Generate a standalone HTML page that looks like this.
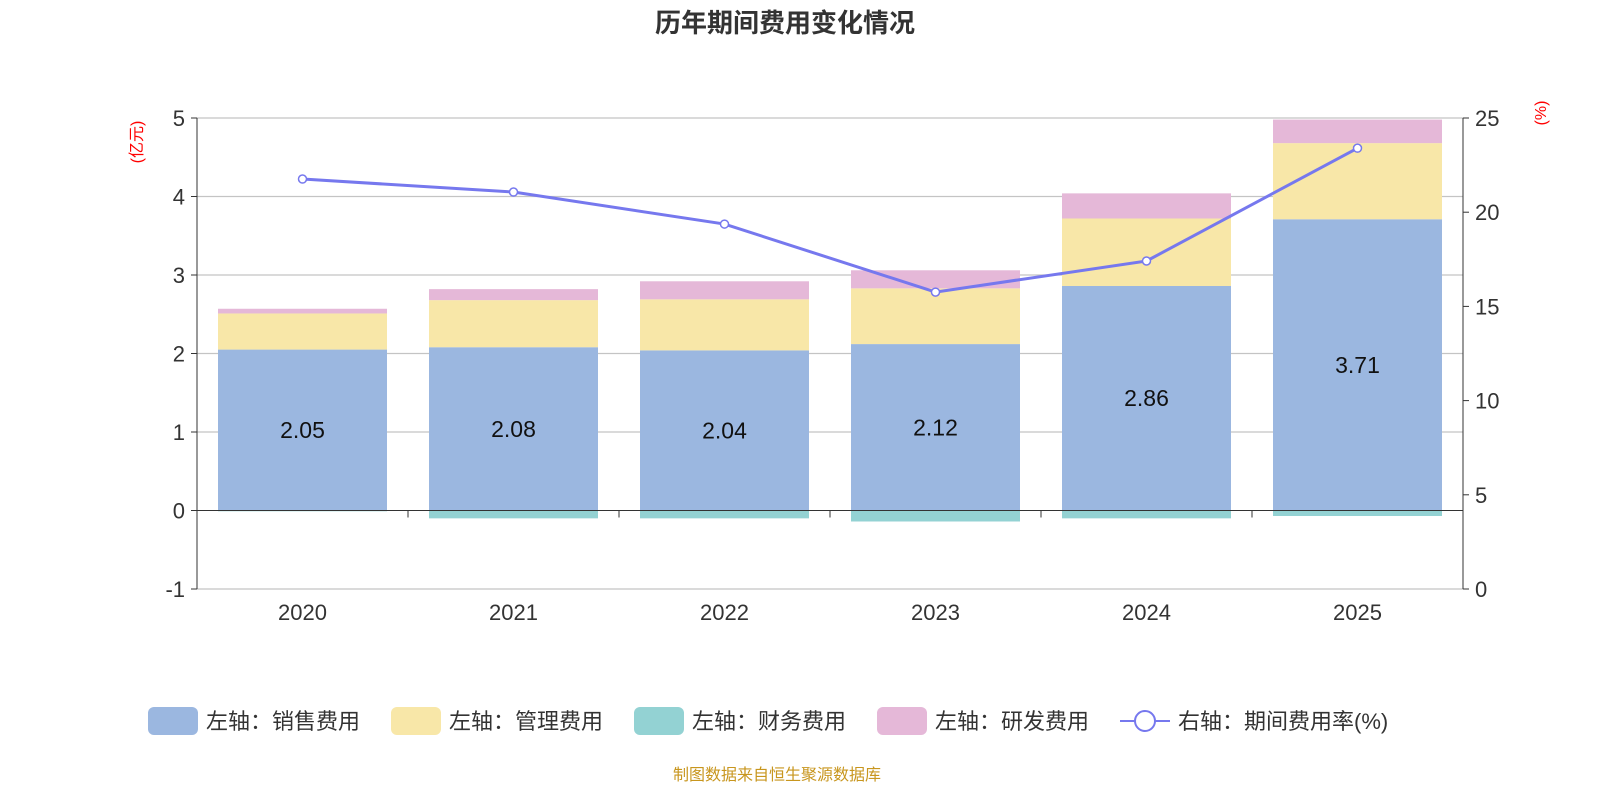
<!DOCTYPE html>
<html><head><meta charset="utf-8"><style>
body{margin:0;background:#fff;font-family:"Liberation Sans","Noto Sans CJK SC",sans-serif}
</style></head><body>
<svg id="c" width="1600" height="800" xmlns="http://www.w3.org/2000/svg"></svg>
<script>
const categories=["2020","2021","2022","2023","2024","2025"];
const sales=[2.05,2.08,2.04,2.12,2.86,3.71];
const mgmt=[0.46,0.60,0.65,0.71,0.86,0.97];
const finance=[-0.01,-0.10,-0.10,-0.14,-0.10,-0.07];
const rnd=[0.06,0.14,0.23,0.23,0.32,0.30];
const rate=[21.76,21.07,19.37,15.76,17.41,23.40];
const leftTicks=[-1,0,1,2,3,4,5];
const rightTicks=[0,5,10,15,20,25];

const NS="http://www.w3.org/2000/svg";
const svg=document.getElementById('c');
const X0=197,X1=1463,YT=118,YB=589;
const yL=v=>YB-(v+1)/6*(YB-YT);
const yR=v=>YB-v/25*(YB-YT);
const bw=(X1-X0)/categories.length;
const xc=i=>X0+bw*(i+0.5);
function el(t,a,txt){const e=document.createElementNS(NS,t);for(const k in a)e.setAttribute(k,a[k]);if(txt!=null)e.textContent=txt;svg.appendChild(e);return e;}
const FONT='"Liberation Sans","Noto Sans CJK SC",sans-serif';

let e=el('text',{x:785,y:32,'text-anchor':'middle','font-size':26,'font-weight':'bold',fill:'#333','font-family':FONT},'历年期间费用变化情况');


leftTicks.forEach(v=>{
 const y=yL(v);
 if(v!==0){const g=el('line',{x1:X0,x2:X1,y1:y,y2:y,stroke:'#c4c4c4','stroke-width':1.2});}
 const t=el('text',{x:X0-12,y:y+8,'text-anchor':'end','font-size':22,fill:'#333','font-family':FONT},String(v));
 
 const k=el('line',{x1:X0-6,x2:X0,y1:y,y2:y,stroke:'#333'});
});
rightTicks.forEach(v=>{
 const y=yR(v);
 const t=el('text',{x:X1+12,y:y+8,'font-size':22,fill:'#333','font-family':FONT},String(v));
 
 const k=el('line',{x1:X1,x2:X1+6,y1:y,y2:y,stroke:'#333'});
});
e=el('line',{x1:X0,x2:X0,y1:YT,y2:YB,stroke:'#333'});
e=el('line',{x1:X1,x2:X1,y1:YT,y2:YB,stroke:'#333'});
e=el('text',{x:0,y:0,'font-size':16,fill:'red','font-family':FONT,transform:`translate(142,142) rotate(-90)`,'text-anchor':'middle'},'(亿元)');

e=el('text',{x:0,y:0,'font-size':16,fill:'red','font-family':FONT,transform:`translate(1546,113) rotate(-90)`,'text-anchor':'middle'},'(%)');


const BW=169;
categories.forEach((c,i)=>{
 const x=xc(i)-BW/2;
 let base=0;
 [[sales,'#9bb7e0','sales'],[mgmt,'#f8e7a8','mgmt'],[rnd,'#e5b8d8','rnd']].forEach(([arr,col,n])=>{
  const y1=yL(base+arr[i]),y0=yL(base);
  const r=el('rect',{x:x,y:y1,width:BW,height:y0-y1,fill:col});
  
  base+=arr[i];
 });
 const f=el('rect',{x:x,y:yL(0),width:BW,height:yL(finance[i])-yL(0),fill:'#93d2d3'});
 
 const t=el('text',{x:xc(i),y:yL(sales[i]/2)+8,'text-anchor':'middle','font-size':23,fill:'#111','font-family':FONT},sales[i].toFixed(2));
 
 const xl=el('text',{x:xc(i),y:620,'text-anchor':'middle','font-size':22,fill:'#333','font-family':FONT},c);
 
});
e=el('line',{x1:X0,x2:X1,y1:yL(0),y2:yL(0),stroke:'#333'});
for(let i=0;i<=categories.length;i++){const k=el('line',{x1:X0+bw*i,x2:X0+bw*i,y1:yL(0),y2:yL(0)+7,stroke:'#333'});}

const pts=rate.map((v,i)=>xc(i)+','+yR(v)).join(' ');
e=el('polyline',{points:pts,fill:'none',stroke:'#7678ee','stroke-width':3});

rate.forEach((v,i)=>{const p=el('circle',{cx:xc(i),cy:yR(v),r:4,fill:'#fff',stroke:'#7678ee','stroke-width':1.5});});

const legend=[['左轴：销售费用','#9bb7e0',148],['左轴：管理费用','#f8e7a8',391],['左轴：财务费用','#93d2d3',634],['左轴：研发费用','#e5b8d8',877]];
legend.forEach(([l,col,x])=>{
 const r=el('rect',{x:x,y:707,width:50,height:28,rx:6,fill:col});
 const t=el('text',{x:x+58,y:729,'font-size':22,fill:'#333','font-family':FONT},l);
});
e=el('line',{x1:1120,x2:1170,y1:721,y2:721,stroke:'#7678ee','stroke-width':2});
e=el('circle',{cx:1145,cy:721,r:10,fill:'#fff',stroke:'#7678ee','stroke-width':2});
e=el('text',{x:1178,y:729,'font-size':22,fill:'#333','font-family':FONT},'右轴：期间费用率(%)');
e=el('text',{x:777,y:780,'text-anchor':'middle','font-size':16,fill:'#c8961e','font-family':FONT},'制图数据来自恒生聚源数据库');
</script>
</body></html>
